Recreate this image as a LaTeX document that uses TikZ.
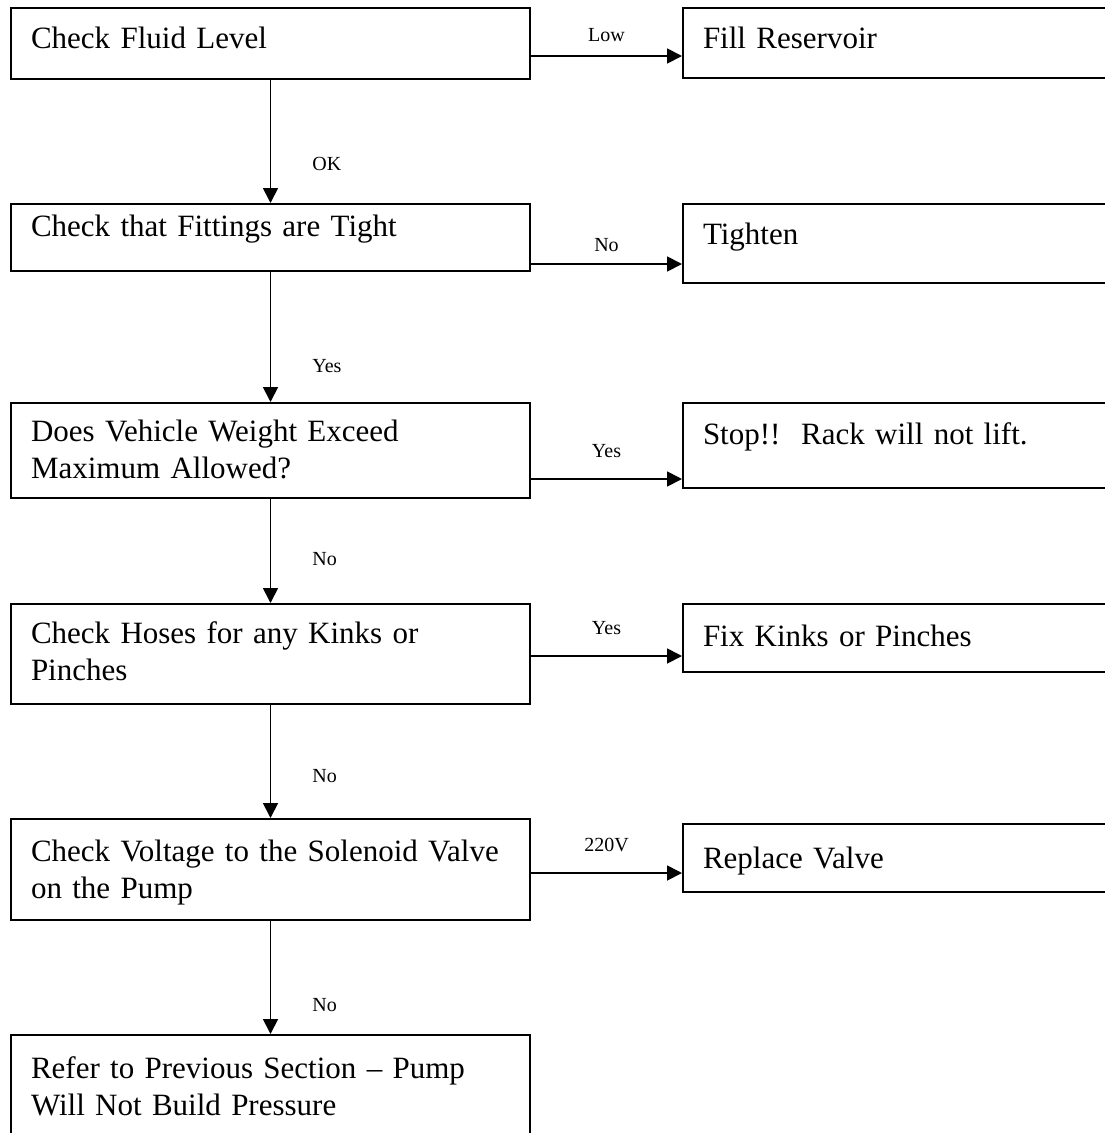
\documentclass[tikz,border=0pt]{standalone}
\usepackage{fontspec}
\setmainfont{Liberation Serif}
\usetikzlibrary{arrows.meta, positioning}
\tikzset{
box/.style={draw, line width=2pt, anchor=north west, align=left, inner xsep=20pt, inner ysep=0pt, font=\fontsize{31}{37.5}\selectfont}, % every step box
stepl/.style={box, text width=479pt}, % boxes of the main column
stepr/.style={box, text width=420pt}, % boxes of the action column (run off the page)
arr/.style={line width=1.8pt, -{Triangle[length=15pt, width=15pt]}}, % connectors
lbl/.style={inner sep=0pt, font=\fontsize{20}{24}\selectfont}, % answers on the connectors
}
\begin{document}
\begin{tikzpicture}[x=1pt, y=-1pt]
    \clip (0,0) rectangle (1105,1133);

    % main column
    \node[stepl, text height=40pt, text depth=31pt] (fluid) at (10,7) {Check Fluid Level};
    \node[stepl, text height=32pt, text depth=35pt] (fittings) at (10,203) {Check that Fittings are Tight};
    \node[stepl, text height=38pt, text depth=57pt] (weight) at (10,402) {Does Vehicle Weight Exceed\\Maximum Allowed?};
    \node[stepl, text height=39pt, text depth=61pt] (hoses) at (10,603) {Check Hoses for any Kinks or\\Pinches};
    \node[stepl, text height=42pt, text depth=59pt] (voltage) at (10,818) {Check Voltage to the Solenoid Valve\\on the Pump};
    \node[stepl, text height=43pt, text depth=110pt] (refer) at (10,1034) {Refer to Previous Section – Pump\\Will Not Build Pressure};

    % actions
    \node[stepr, text height=40pt, text depth=30pt] (fill) at (682,7) {Fill Reservoir};
    \node[stepr, text height=40pt, text depth=39pt] (tighten) at (682,203) {Tighten};
    \node[stepr, text height=41pt, text depth=44pt] (stop) at (682,402) {Stop!!\ \ Rack will not lift.};
    \node[stepr, text height=42pt, text depth=26pt] (kinks) at (682,603) {Fix Kinks or Pinches};
    \node[stepr, text height=44pt, text depth=24pt] (valve) at (682,823) {Replace Valve};

    % down the main column
    \draw[arr] (fluid) -- (fittings) node[pos=0.68, right=41pt, lbl] {OK};
    \draw[arr] (fittings) -- (weight) node[pos=0.727, right=41pt, lbl] {Yes};
    \draw[arr] (weight) -- (hoses) node[pos=0.575, right=41pt, lbl] {No};
    \draw[arr] (hoses) -- (voltage) node[pos=0.626, right=41pt, lbl] {No};
    \draw[arr] (voltage) -- (refer) node[pos=0.748, right=41pt, lbl] {No};

    % across to the actions
    \draw[arr] ([yshift=-12.5pt]fluid.east) coordinate (a1) -- (a1 -| fill.west) node[midway, above=13pt, lbl] {Low};
    \draw[arr] ([yshift=-26.5pt]fittings.east) coordinate (a2) -- (a2 -| tighten.west) node[midway, above=11pt, lbl] {No};
    \draw[arr] ([yshift=-28.5pt]weight.east) coordinate (a3) -- (a3 -| stop.west) node[midway, above=20pt, lbl] {Yes};
    \draw[arr] ([yshift=-2pt]hoses.east) coordinate (a4) -- (a4 -| kinks.west) node[midway, above=20pt, lbl] {Yes};
    \draw[arr] ([yshift=-3.5pt]voltage.east) coordinate (a5) -- (a5 -| valve.west) node[midway, above=20pt, lbl] {220V};
\end{tikzpicture}
\end{document}
